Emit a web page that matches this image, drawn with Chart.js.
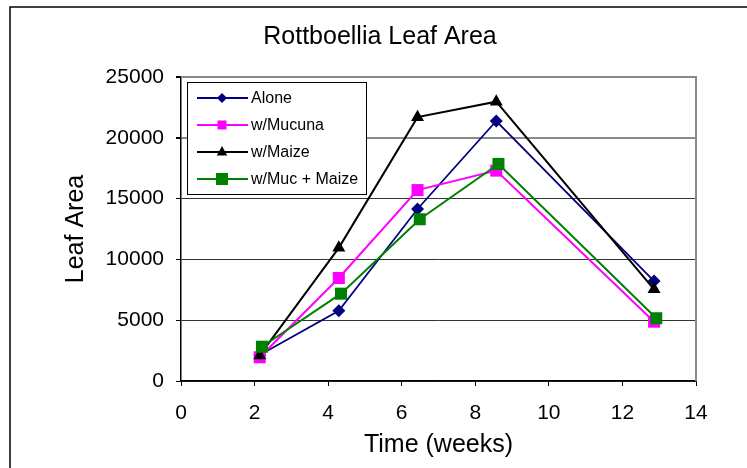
<!DOCTYPE html>
<html>
<head>
<meta charset="utf-8">
<script src="https://cdn.jsdelivr.net/npm/chart.js@4/dist/chart.umd.min.js"></script>
<style>
  html, body { margin: 0; padding: 0; background: #fff; }
  #wrap { width: 747px; height: 468px; }
</style>
</head>
<body>
<div id="wrap"><canvas id="leafChart" width="747" height="468"></canvas></div>
<script>
// weeks after planting (the Muc+Maize markers sit a touch to the right)
const weeks = [2.14, 4.29, 6.43, 8.57, 12.86];
const weeksMucMaize = [2.2, 4.35, 6.49, 8.63, 12.92];

const alone = [2140, 5780, 14150, 21380, 8220];
const mucuna = [1950, 8470, 15700, 17300, 4880];
const maize = [2100, 10950, 21700, 22970, 7540];
const mucMaize = [2820, 7180, 13300, 17850, 5160];

const xTicks = [0, 2, 4, 6, 8, 10, 12, 14];
const yTicks = [0, 5000, 10000, 15000, 20000, 25000];

const toPoints = (xs, ys) => xs.map((x, i) => ({ x: x, y: ys[i] }));

const FONT = '"Liberation Sans", Arial, sans-serif';

// small marker painter for the legend box
function drawMarker(ctx, style, x, y, r, color) {
    ctx.fillStyle = color;
    ctx.beginPath();
    if (style === 'rectRot') {
        ctx.moveTo(x, y - r); ctx.lineTo(x + r, y); ctx.lineTo(x, y + r); ctx.lineTo(x - r, y);
    } else if (style === 'triangle') {
        ctx.moveTo(x, y - r); ctx.lineTo(x + r * 0.87, y + r * 0.6); ctx.lineTo(x - r * 0.87, y + r * 0.6);
    } else {
        ctx.rect(x - r, y - r, 2 * r, 2 * r);
    }
    ctx.closePath();
    ctx.fill();
}

// outer border + grey plot frame (top / right)
const framePlugin = {
    id: 'framePlugin',
    beforeDraw(chart) {
        const ctx = chart.ctx;
        ctx.save();
        ctx.fillStyle = '#fff';
        ctx.fillRect(0, 0, chart.width, chart.height);
        ctx.strokeStyle = '#000';
        ctx.lineWidth = 1.5;
        ctx.beginPath();
        ctx.moveTo(10, chart.height);
        ctx.lineTo(10, 7);
        ctx.lineTo(chart.width, 7);
        ctx.stroke();
        ctx.restore();
    },
    beforeDatasetsDraw(chart) {
        const a = chart.chartArea;
        const ctx = chart.ctx;
        ctx.save();
        ctx.strokeStyle = '#8a8a8a';
        ctx.lineWidth = 2;
        ctx.beginPath();
        ctx.moveTo(a.left, a.top);
        ctx.lineTo(a.right, a.top);
        ctx.lineTo(a.right, a.bottom);
        ctx.stroke();
        ctx.restore();
    }
};

// legend drawn inside the plot, top-left
const boxLegend = {
    id: 'boxLegend',
    afterDraw(chart) {
        const ctx = chart.ctx;
        const left = 187, top = 82, w = 179, h = 112;
        ctx.save();
        ctx.fillStyle = '#fff';
        ctx.fillRect(left, top, w, h);
        ctx.strokeStyle = '#000';
        ctx.lineWidth = 1;
        ctx.strokeRect(left + 0.5, top + 0.5, w, h);
        chart.data.datasets.forEach((ds, i) => {
            const y = top + 16 + i * 27;
            ctx.strokeStyle = ds.borderColor;
            ctx.lineWidth = 2;
            ctx.beginPath();
            ctx.moveTo(197, y);
            ctx.lineTo(248, y);
            ctx.stroke();
            drawMarker(ctx, ds.pointStyle, 222, y, ds.legendR, ds.borderColor);
            ctx.fillStyle = '#000';
            ctx.font = '16px ' + FONT;
            ctx.textBaseline = 'middle';
            ctx.textAlign = 'left';
            ctx.fillText(ds.label, 251, y + 1);
        });
        ctx.restore();
    }
};

const series = [
    { label: 'Alone', xs: weeks, ys: alone, color: '#000080', style: 'rectRot', r: 6.5, legendR: 5, width: 1.75, order: 4 },
    { label: 'w/Mucuna', xs: weeks, ys: mucuna, color: '#ff00ff', style: 'rect', r: 8.5, legendR: 4.5, width: 2, order: 3 },
    { label: 'w/Maize', xs: weeks, ys: maize, color: '#000000', style: 'triangle', r: 7.5, legendR: 6, width: 2, order: 2 },
    { label: 'w/Muc + Maize', xs: weeksMucMaize, ys: mucMaize, color: '#008000', style: 'rect', r: 8.5, legendR: 6, width: 2, order: 1 }
];

new Chart(document.getElementById('leafChart'), {
    type: 'line',
    data: {
        datasets: series.map(s => ({
            label: s.label,
            data: toPoints(s.xs, s.ys),
            borderColor: s.color,
            backgroundColor: s.color,
            pointBackgroundColor: s.color,
            pointBorderColor: s.color,
            pointStyle: s.style,
            pointRadius: s.r,
            pointBorderWidth: 0,
            borderWidth: s.width,
            legendR: s.legendR,
            order: s.order,
            tension: 0
        }))
    },
    options: {
        responsive: false,
        animation: false,
        layout: { padding: { left: 64, right: 51, top: 0, bottom: 0 } },
        plugins: {
            legend: { display: false },
            tooltip: { enabled: false },
            title: {
                display: true,
                text: 'Rottboellia Leaf Area',
                color: '#000',
                font: { family: FONT, size: 25, weight: 'normal', lineHeight: 1 },
                padding: { top: 25, bottom: 27 }
            }
        },
        scales: {
            x: {
                type: 'linear',
                min: 0,
                max: 14,
                afterBuildTicks: axis => { axis.ticks = xTicks.map(v => ({ value: v })); },
                afterFit: axis => { axis.height = 87; },
                grid: { drawOnChartArea: false, tickLength: 5, color: '#000', tickColor: '#000' },
                border: { color: '#000', width: 1.5 },
                ticks: { color: '#000', padding: 15, maxRotation: 0, font: { family: FONT, size: 21 } },
                title: {
                    display: true,
                    text: 'Time (weeks)',
                    color: '#000',
                    font: { family: FONT, size: 25, lineHeight: 1 },
                    padding: { top: 0, bottom: 10 }
                }
            },
            y: {
                type: 'linear',
                min: 0,
                max: 25000,
                afterBuildTicks: axis => { axis.ticks = yTicks.map(v => ({ value: v })); },
                afterFit: axis => { axis.width = 117; },
                grid: {
                    tickLength: 5,
                    tickColor: '#000',
                    color: ctx => (ctx.tick && ctx.tick.value >= 20000) ? '#8a8a8a' : '#333',
                    lineWidth: ctx => (ctx.tick && ctx.tick.value >= 20000) ? 2 : 1
                },
                border: { color: '#000', width: 1.5 },
                ticks: {
                    color: '#000',
                    padding: 12,
                    font: { family: FONT, size: 21 },
                    callback: v => String(v)
                },
                title: {
                    display: true,
                    text: 'Leaf Area',
                    color: '#000',
                    font: { family: FONT, size: 25, lineHeight: 1 },
                    padding: { top: 0, bottom: 0 }
                }
            }
        }
    },
    plugins: [framePlugin, boxLegend]
});
</script>
</body>
</html>
